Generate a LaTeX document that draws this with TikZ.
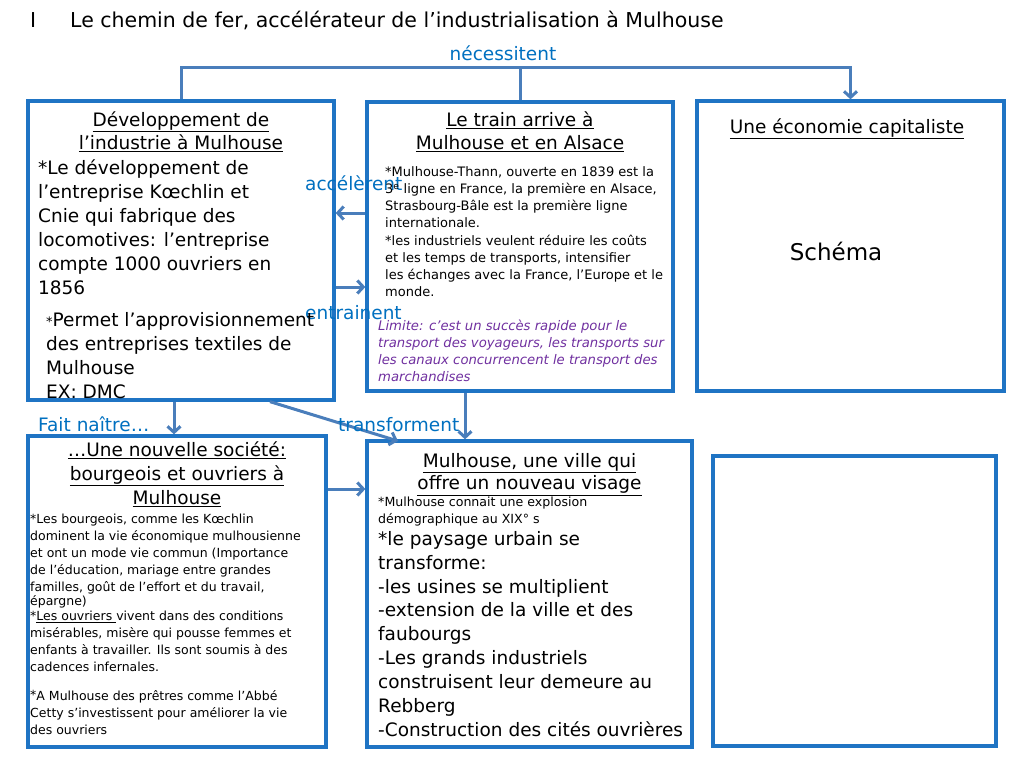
\documentclass[tikz,border=0pt]{standalone}
\usepackage{fontspec}
\setmainfont{DejaVu Sans}
\usetikzlibrary{arrows.meta}
\definecolor{boxblue}{RGB}{31,116,196}
\definecolor{arrowblue}{RGB}{74,126,187}
\definecolor{lblblue}{RGB}{0,112,192}
\definecolor{limpurple}{RGB}{112,48,160}
\newcommand{\myTop}[1]{\rule{0pt}{#1pt}}
\begin{document}
\begin{tikzpicture}[x=1pt,y=-1pt,
  box/.style={draw=boxblue, line width=3.3pt, inner sep=0pt, fill=white},
  conn/.style={draw=arrowblue, line width=3pt},
  arr/.style={conn, -{Straight Barb[length=6pt,width=13pt]}},
  lbl/.style={text=lblblue, font=\fontsize{18.5}{22}\selectfont, inner sep=0pt, anchor=base west},
  big/.style={font=\fontsize{18.5}{24}\selectfont, inner sep=0pt, align=left, anchor=north west},
  head/.style={font=\fontsize{18.5}{23.5}\selectfont, inner sep=0pt, align=center, anchor=north},
  small/.style={font=\fontsize{12.5}{17}\selectfont, inner sep=0pt, align=left, anchor=north west},
]
\useasboundingbox (0,0) rectangle (1024,768);

% title
\node[anchor=base west, inner sep=0pt, font=\fontsize{20.5}{22}\selectfont] (num) at (30,28) {I};
\node[anchor=base west, inner sep=0pt, font=\fontsize{20.5}{22}\selectfont] (title) at (70,28) {Le chemin de fer, accélérateur de l’industrialisation à Mulhouse};

% boxes
\node[box, minimum width=306, minimum height=299] (A) at (181,250.5) {};
\node[box, minimum width=306, minimum height=289] (B) at (520,246.5) {};
\node[box, minimum width=307, minimum height=290] (C) at (850.5,246) {};
\node[box, minimum width=298, minimum height=311] (D) at (177,591.5) {};
\node[box, minimum width=325, minimum height=306] (E) at (529.5,594) {};
\node[box, minimum width=283, minimum height=290] (F) at (854.5,601) {};

% connectors
\draw[arr] (A.north) -- ++(0,-32) -| (C.north);
\draw[conn] (B.north) -- (B.north |- 0,69);
\draw[arr] (B.west |- 0,213) -- (A.east |- 0,213);
\draw[arr] (A.east |- 0,287) -- (B.west |- 0,287);
\draw[arr] (A.south -| 174,0) -- (D.north -| 174,0);
\coordinate (tfEnd) at (398,441);
\draw[arr] (A.south -| 270,0) -- (tfEnd);
\draw[arr] (B.south -| 465,0) -- (E.north -| 465,0);
\draw[arr] (D.east |- 0,489) -- (E.west |- 0,489);

% connector labels
\node[lbl, anchor=base] (lnec) at (503,60) {nécessitent};
\node[lbl] (lacc) at (305,190) {accélèrent};
\node[lbl] (lent) at (305,319) {entrainent};
\node[lbl] (lfait) at (38,431) {Fait naître…};
\node[lbl] (ltrans) at (338,431) {transforment};

% box A
\node[head] (Ah) at (181,106) {\myTop{20}\underline{Développement de}\\\underline{l’industrie à Mulhouse}};
\node[big] (Ab1) at (38,154) {\myTop{20}*Le développement de\\l’entreprise Kœchlin et\\Cnie qui fabrique des\\locomotives: l’entreprise\\compte 1000 ouvriers en\\1856};
\node[big] (Ab2) at (46,306) {\myTop{20}{\fontsize{13}{13}\selectfont *}Permet l’approvisionnement\\des entreprises textiles de\\Mulhouse\\EX: DMC};

% box B
\node[head] (Bh) at (520,106) {\myTop{20}\underline{Le train arrive à}\\\underline{Mulhouse et en Alsace}};
\node[small, font=\fontsize{13}{17.2}\selectfont] (Bb) at (385,162) {\myTop{14}*Mulhouse-Thann, ouverte en 1839 est la\\3\textsuperscript{e} ligne en France, la première en Alsace,\\Strasbourg-Bâle est la première ligne\\internationale.\\*les industriels veulent réduire les coûts\\et les temps de transports, intensifier\\les échanges avec la France, l’Europe et le\\monde.};
\node[small, text=limpurple, font=\fontsize{13.2}{17}\selectfont\itshape] (Bl) at (378,316) {\myTop{14}Limite: c’est un succès rapide pour le\\transport des voyageurs, les transports sur\\les canaux concurrencent le transport des\\marchandises};

% box C
\node[anchor=base, inner sep=0pt, font=\fontsize{18.5}{22}\selectfont] (Ch) at (847,133) {\underline{Une économie capitaliste}};
\node[anchor=base, inner sep=0pt, font=\fontsize{23}{26}\selectfont] (Cs) at (836,260) {Schéma};

% box D
\node[head, font=\fontsize{18.5}{24}\selectfont] (Dh) at (177,436) {\myTop{20}\underline{…Une nouvelle société:}\\\underline{bourgeois et ouvriers à}\\\underline{Mulhouse}};
\node[small] (Db1) at (30,509) {\myTop{14}*Les bourgeois, comme les Kœchlin\\dominent la vie économique mulhousienne\\et ont un mode vie commun  (Importance\\de l’éducation, mariage entre grandes\\familles, goût de l’effort et du travail,};
\node[small, anchor=base west] (Db2) at (30,605) {épargne)};
\node[small] (Db3) at (30,606) {\myTop{14}*\underline{Les ouvriers }vivent dans des conditions\\misérables, misère qui pousse femmes et\\enfants à travailler. Ils sont soumis à des\\cadences infernales.};
\node[small] (Db4) at (30,686) {\myTop{14}\raisebox{1pt}{*}A Mulhouse des prêtres comme l’Abbé\\Cetty s’investissent pour  améliorer la vie\\des ouvriers};

% box E
\node[head, font=\fontsize{18.5}{22.5}\selectfont] (Eh) at (529.5,447) {\myTop{20}\underline{Mulhouse, une ville qui}\\\underline{offre un nouveau visage}};
\node[small, font=\fontsize{12.6}{17}\selectfont] (Es) at (378,493) {\myTop{13}*Mulhouse connait une explosion\\démographique au XIX° s};
\node[big, font=\fontsize{18.5}{23.9}\selectfont] (Eb) at (378,525) {\myTop{20}*le paysage urbain se\\transforme:\\-les usines se multiplient\\-extension de la ville et des\\faubourgs\\-Les grands industriels\\construisent leur demeure au\\Rebberg\\-Construction des cités ouvrières};
\end{tikzpicture}
\end{document}
